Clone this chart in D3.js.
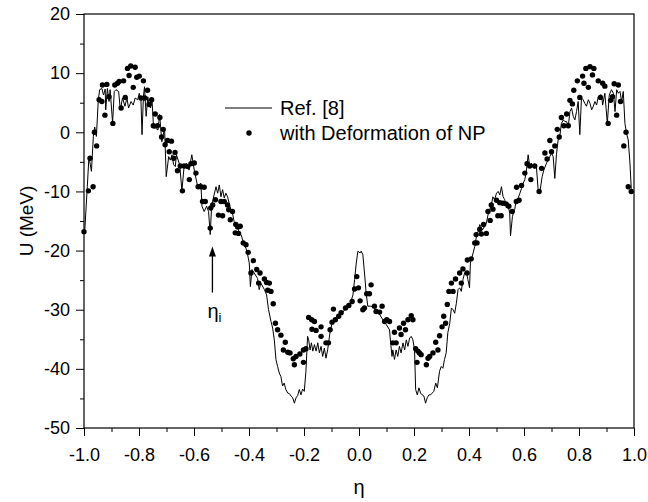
<!DOCTYPE html>
<html>
<head>
<meta charset="utf-8">
<script src="https://cdn.jsdelivr.net/npm/d3@7"></script>
<style>
  body { margin: 0; background: #fff; }
  #svg-container { width: 648px; height: 502px; }
  svg { display: block; font-family: "Liberation Sans", Arial, sans-serif; }
</style>
</head>
<body>
<div id="svg-container"></div>
<script>
////////////////////////////////////////////////////////////////////
////////////////////////////  Data  ////////////////////////////////
// Ref. [8] curve (eta, U in MeV)
const refEta = [-0.997,-0.988,-0.982,-0.973,-0.966,-0.961,-0.955,-0.948,-0.943,-0.935,-0.929,-0.923,-0.921,-0.915,-0.909,-0.905,-0.896,-0.89,-0.884,-0.874,-0.868,-0.86,-0.851,-0.844,-0.838,-0.829,-0.821,-0.814,-0.805,-0.799,-0.793,-0.789,-0.784,-0.78,-0.774,-0.768,-0.764,-0.758,-0.753,-0.747,-0.74,-0.731,-0.725,-0.717,-0.707,-0.701,-0.692,-0.686,-0.68,-0.674,-0.668,-0.664,-0.652,-0.644,-0.636,-0.627,-0.618,-0.608,-0.599,-0.587,-0.575,-0.571,-0.563,-0.554,-0.547,-0.541,-0.536,-0.527,-0.52,-0.514,-0.508,-0.502,-0.496,-0.49,-0.484,-0.478,-0.472,-0.466,-0.46,-0.454,-0.448,-0.442,-0.435,-0.429,-0.423,-0.417,-0.411,-0.405,-0.399,-0.395,-0.389,-0.381,-0.369,-0.363,-0.357,-0.344,-0.336,-0.329,-0.32,-0.314,-0.308,-0.302,-0.296,-0.29,-0.284,-0.278,-0.272,-0.266,-0.259,-0.253,-0.247,-0.241,-0.235,-0.229,-0.223,-0.217,-0.211,-0.205,-0.199,-0.193,-0.187,-0.183,-0.178,-0.173,-0.168,-0.162,-0.156,-0.15,-0.144,-0.138,-0.132,-0.126,-0.12,-0.114,-0.105,-0.098,-0.09,-0.077,-0.065,-0.047,-0.035,-0.022,-0.016,-0.01,-0.004,0.004,0.008,0.014,0.02,0.026,0.032,0.044,0.056,0.062,0.075,0.087,0.099,0.111,0.115,0.12,0.123,0.129,0.135,0.141,0.147,0.153,0.16,0.166,0.172,0.178,0.184,0.19,0.196,0.202,0.206,0.212,0.218,0.224,0.23,0.236,0.242,0.248,0.254,0.26,0.266,0.272,0.279,0.285,0.293,0.299,0.305,0.311,0.317,0.323,0.33,0.336,0.342,0.348,0.354,0.36,0.366,0.372,0.378,0.384,0.39,0.396,0.402,0.405,0.415,0.421,0.427,0.433,0.439,0.449,0.457,0.463,0.469,0.475,0.481,0.487,0.493,0.5,0.506,0.512,0.518,0.524,0.53,0.536,0.542,0.548,0.551,0.558,0.566,0.572,0.579,0.585,0.591,0.597,0.603,0.609,0.615,0.621,0.627,0.633,0.639,0.645,0.651,0.657,0.666,0.672,0.682,0.694,0.7,0.706,0.712,0.718,0.724,0.73,0.736,0.743,0.749,0.755,0.761,0.767,0.773,0.779,0.785,0.791,0.797,0.803,0.809,0.815,0.821,0.827,0.834,0.84,0.846,0.852,0.858,0.864,0.87,0.876,0.882,0.886,0.894,0.903,0.91,0.918,0.925,0.931,0.937,0.943,0.949,0.955,0.961,0.967,0.973,0.979,0.985,0.99,0.997];
const refU = [-16.5,-9.2,-4.1,-6.6,-0.7,0.9,-0.7,5.5,7.2,7.4,6.3,7.3,3.8,7.4,5.2,7.2,1.6,6.9,7.2,6.9,3.8,5.8,4.4,5.8,4.1,5.2,4.6,5.8,5.5,6.6,5.5,-0.4,6.0,7.7,2.7,6.0,4.9,4.1,5.8,0.7,0.7,0.4,3.0,-1.6,0.7,-7.5,-4.1,-4.7,-3.8,-5.5,-5.8,-3.8,-5.5,-9.9,-5.8,-5.2,-6.4,-3.8,-6.4,-9.1,-8.6,-12.5,-13.4,-12.5,-13.4,-17.3,-12.5,-10.6,-9.2,-10.3,-8.9,-10.9,-9.7,-11.1,-10.3,-10.9,-12,-13.1,-13.7,-15.1,-15.6,-15.9,-17.1,-17.3,-18.2,-19,-19.6,-20.7,-22.1,-26.1,-23.2,-23.8,-24.7,-26.6,-25.5,-26.6,-27.5,-30,-32,-33.1,-35.1,-38.4,-39.6,-40.7,-41.3,-42.9,-42.4,-43.5,-44.1,-44.2,-44.6,-44.9,-45.8,-44.9,-44.5,-43.5,-44.4,-43.4,-43.8,-40.4,-34.5,-35.1,-36.8,-35.6,-37.0,-35.9,-37.0,-35.6,-37.3,-36.2,-37.9,-36.5,-38.2,-36.8,-33.7,-32.3,-31.7,-31.4,-30.8,-29.7,-29.4,-27.5,-24.9,-22.1,-20.1,-20.4,-20.1,-20.7,-23.8,-27.2,-29.4,-29.4,-29.7,-30.3,-30.8,-31.7,-32.5,-33.4,-35.6,-37.9,-36.8,-38.4,-36.8,-37.9,-36.2,-37.3,-35.6,-36.8,-35.1,-36.2,-34.8,-34.5,-35.1,-36.8,-43.5,-44.4,-43.2,-44.1,-44.4,-44.6,-45.8,-44.9,-44.4,-44.4,-44.1,-43.8,-42.4,-43.2,-40.4,-39.6,-39.9,-38.4,-37.3,-33.9,-32.3,-29.7,-30.0,-30.6,-28.9,-26.6,-26.3,-26.9,-24.9,-23.8,-23.5,-24.9,-26.3,-22.1,-20.4,-19.3,-17.6,-16.8,-15.6,-16.5,-15.9,-15.4,-14,-13.1,-12.3,-10.9,-11.4,-10.3,-10.0,-10.6,-9.2,-10.9,-11.4,-12.8,-12.3,-13.7,-17.5,-14.2,-13.1,-11.4,-11.1,-10.3,-9.5,-8.6,-8.0,-6.4,-3.8,-5.8,-5.2,-5.8,-6.1,-5.8,-9.5,-10.3,-7.5,-6.4,-5.2,-4.1,-3.5,-4.1,-7.8,-3.8,-1.3,-0.7,1.5,2.1,1.8,1.8,1.0,3.5,4.1,2.7,2.1,3.5,5.2,-0.4,5.8,5.5,4.9,4.4,5.5,4.9,3.8,4.4,5.2,4.6,6.0,6.3,6.3,4.6,6.6,1.5,6.3,7.2,6.6,3.5,7.2,6.6,6.9,5.2,6.9,1.5,-0.2,-1.3,-5,-9.5,-10.2];

// "with Deformation of NP" points (eta, U in MeV)
const defEta = [-1.0,-0.984,-0.978,-0.967,-0.962,-0.954,-0.945,-0.935,-0.933,-0.924,-0.917,-0.909,-0.895,-0.888,-0.878,-0.872,-0.865,-0.856,-0.85,-0.842,-0.836,-0.83,-0.821,-0.814,-0.808,-0.799,-0.793,-0.784,-0.779,-0.769,-0.763,-0.754,-0.748,-0.741,-0.733,-0.724,-0.718,-0.712,-0.705,-0.696,-0.69,-0.682,-0.674,-0.669,-0.66,-0.65,-0.642,-0.636,-0.623,-0.617,-0.611,-0.599,-0.593,-0.585,-0.575,-0.563,-0.569,-0.559,-0.539,-0.541,-0.532,-0.522,-0.511,-0.502,-0.496,-0.49,-0.478,-0.474,-0.468,-0.46,-0.45,-0.448,-0.441,-0.438,-0.432,-0.421,-0.411,-0.403,-0.384,-0.393,-0.372,-0.36,-0.365,-0.344,-0.336,-0.326,-0.332,-0.32,-0.312,-0.304,-0.296,-0.284,-0.268,-0.275,-0.259,-0.251,-0.239,-0.229,-0.235,-0.215,-0.202,-0.193,-0.202,-0.183,-0.172,-0.162,-0.171,-0.156,-0.138,-0.138,-0.12,-0.111,-0.105,-0.093,-0.098,-0.086,-0.074,-0.065,-0.049,-0.037,-0.025,-0.016,-0.008,-0.002,0.004,0.014,0.02,0.028,0.038,0.044,0.056,0.062,0.075,0.084,0.093,0.101,0.111,0.123,0.129,0.135,0.147,0.153,0.162,0.169,0.178,0.19,0.196,0.206,0.211,0.214,0.22,0.226,0.245,0.251,0.257,0.269,0.279,0.287,0.293,0.302,0.308,0.315,0.321,0.327,0.336,0.342,0.351,0.366,0.372,0.378,0.393,0.394,0.408,0.421,0.429,0.426,0.439,0.445,0.453,0.463,0.469,0.477,0.481,0.487,0.5,0.505,0.512,0.517,0.523,0.535,0.545,0.557,0.572,0.582,0.573,0.591,0.603,0.611,0.621,0.625,0.639,0.655,0.664,0.676,0.684,0.694,0.7,0.712,0.721,0.728,0.736,0.745,0.755,0.761,0.767,0.776,0.781,0.794,0.803,0.813,0.818,0.825,0.834,0.84,0.849,0.854,0.87,0.878,0.886,0.894,0.906,0.915,0.922,0.928,0.937,0.943,0.951,0.963,0.971,0.979,0.99];
const defU = [-16.8,-9.9,-4.4,-9.2,0.0,-2.3,5.5,5.2,8.0,2.9,8.1,6.0,1.5,8.0,8.3,8.6,4.1,8.7,5.9,10.8,9.6,11.2,7.6,11.0,9.3,9.5,5.8,8.7,5.8,7.1,4.7,5.5,1.1,3.1,1.1,2.5,-0.8,0.5,-2.1,-1.4,-3.3,-1.5,-4.4,-3.4,-6.5,-5.7,-9.9,-5.7,-5.8,-8.0,-5.3,-5.2,-6.9,-9.2,-9.2,-9.3,-11.7,-11.7,-12.8,-16.2,-12.3,-11.4,-14.0,-11.7,-14.1,-11.7,-12.3,-13.1,-14.8,-13.4,-17.0,-15.6,-16.0,-17.1,-15.9,-18.7,-19.0,-20.3,-21.7,-23.8,-23.2,-23.8,-25.5,-24.8,-25.4,-25.5,-26.7,-26.9,-29.0,-32.3,-33.4,-34.3,-35.5,-36.8,-37.2,-37.3,-38.3,-37.9,-39.3,-37.5,-36.8,-36.6,-38.9,-31.3,-31.7,-32.0,-33.3,-33.5,-32.9,-34.5,-35.6,-35.6,-33.4,-29.9,-32.1,-31.7,-31.1,-30.5,-29.7,-29.3,-28.6,-26.5,-24.4,-26.3,-28.5,-30,-29.7,-27.3,-27.3,-25.8,-29.4,-30.3,-30.4,-29.4,-32,-31.7,-32,-35.6,-33.8,-35.6,-33.1,-34.2,-32.3,-33.4,-31.7,-31,-31.7,-36.6,-38.9,-37,-37.3,-37.6,-39.3,-38.2,-37.9,-37.3,-35.5,-36.8,-34.4,-32.9,-31.1,-32.3,-29.1,-26.9,-25.5,-26.9,-24.8,-23.8,-25.5,-23.1,-23.8,-21.6,-21.4,-18.7,-18.7,-17.3,-16.4,-17.2,-15.6,-17.1,-13.4,-14.9,-12.3,-13.0,-11.5,-14.1,-11.9,-14.1,-12.0,-12.1,-12.5,-13.4,-11.7,-11.5,-9.3,-9.0,-6.9,-5.3,-5.7,-8.0,-5.7,-10.0,-6.1,-3.5,-4.5,-1.4,-3.3,-2.3,0.5,-0.8,2.5,1.1,3.1,1.1,5.4,4.8,7.1,8.7,5.9,9.5,8.3,10.8,7.6,11.1,9.7,10.8,8.7,5.9,8.3,7.8,1.5,5.4,6.0,8.2,2.9,8.0,5.2,-2.3,0.0,-9.2,-10.0];

// axes
const xMajor = [-1.0, -0.8, -0.6, -0.4, -0.2, 0.0, 0.2, 0.4, 0.6, 0.8, 1.0];
const xMinor = [-0.9, -0.7, -0.5, -0.3, -0.1, 0.1, 0.3, 0.5, 0.7, 0.9];
const yMajor = [-50, -40, -30, -20, -10, 0, 10, 20];
const yMinor = [-45, -35, -25, -15, -5, 5, 15];

// eta_i marker
const etaI = -0.533;
const arrowFrom = -27.1;
const arrowTo = -19.3;
const etaILabelU = -31.4;

////////////////////////////////////////////////////////////////////
////////////////////////////  Init  ///////////////////////////////
const width = 648;
const height = 502;
const margin = { top: 14, right: 14, bottom: 74, left: 84 };

const svg = d3
  .select("#svg-container")
  .append("svg")
  .attr("width", width)
  .attr("height", height);

const xScale = d3
  .scaleLinear()
  .domain([-1, 1])
  .range([margin.left, width - margin.right]);

const yScale = d3
  .scaleLinear()
  .domain([-50, 20])
  .range([height - margin.bottom, margin.top]);

// plain hyphen-minus like the original, not d3's unicode minus
const fmtX = (d) => d.toFixed(1);
const fmtY = (d) => String(d);

// minor ticks
svg
  .append("g")
  .attr("transform", `translate(0,${height - margin.bottom})`)
  .call(d3.axisBottom(xScale).tickValues(xMinor).tickSize(4).tickFormat(""))
  .call((g) => g.select(".domain").remove());

svg
  .append("g")
  .attr("transform", `translate(${margin.left},0)`)
  .call(d3.axisLeft(yScale).tickValues(yMinor).tickSize(4).tickFormat(""))
  .call((g) => g.select(".domain").remove());

// major ticks + labels
svg
  .append("g")
  .attr("class", "x-axis")
  .attr("transform", `translate(0,${height - margin.bottom})`)
  .call(
    d3.axisBottom(xScale).tickValues(xMajor).tickSize(8).tickPadding(12).tickFormat(fmtX)
  );

svg
  .append("g")
  .attr("class", "y-axis")
  .attr("transform", `translate(${margin.left},0)`)
  .call(d3.axisLeft(yScale).tickValues(yMajor).tickSize(8).tickPadding(6).tickFormat(fmtY));

svg.selectAll(".x-axis .domain, .y-axis .domain").remove();
svg
  .selectAll(".tick text")
  .attr("font-family", '"Liberation Sans", Arial, sans-serif')
  .attr("font-size", 18)
  .attr("fill", "#000");
svg.selectAll(".tick line").attr("stroke", "#000");

// frame
svg
  .append("rect")
  .attr("x", xScale(-1))
  .attr("y", yScale(20))
  .attr("width", xScale(1) - xScale(-1))
  .attr("height", yScale(-50) - yScale(20))
  .attr("fill", "none")
  .attr("stroke", "#000")
  .attr("stroke-width", 1.2);

// axis titles
svg
  .append("text")
  .attr("transform", `translate(26,${(yScale(20) + yScale(-50)) / 2}) rotate(-90)`)
  .attr("text-anchor", "middle")
  .attr("dominant-baseline", "central")
  .attr("font-size", 19)
  .text("U (MeV)");

svg
  .append("text")
  .attr("x", xScale(0))
  .attr("y", 494)
  .attr("text-anchor", "middle")
  .attr("font-size", 20)
  .text("η");

////////////////////////////////////////////////////////////////////
////////////////////////////  Series  //////////////////////////////
const refData = refEta.map((e, i) => ({ eta: e, u: refU[i] }));
const defData = defEta.map((e, i) => ({ eta: e, u: defU[i] }));

const line = d3
  .line()
  .x((d) => xScale(d.eta))
  .y((d) => yScale(d.u));

svg
  .append("path")
  .datum(refData)
  .attr("fill", "none")
  .attr("stroke", "#000")
  .attr("stroke-width", 1)
  .attr("d", line);

svg
  .selectAll(".dot")
  .data(defData)
  .enter()
  .append("circle")
  .attr("class", "dot")
  .attr("cx", (d) => xScale(d.eta))
  .attr("cy", (d) => yScale(d.u))
  .attr("r", 2.7)
  .attr("fill", "#000");

////////////////////////////////////////////////////////////////////
////////////////////////////  Annotation  //////////////////////////
const ax = xScale(etaI);
svg
  .append("line")
  .attr("x1", ax)
  .attr("x2", ax)
  .attr("y1", yScale(arrowFrom))
  .attr("y2", yScale(arrowTo) + 8)
  .attr("stroke", "#000")
  .attr("stroke-width", 1.3);

svg
  .append("path")
  .attr(
    "d",
    `M${ax},${yScale(arrowTo)} L${ax - 3.5},${yScale(arrowTo) + 10} L${ax + 3.5},${yScale(arrowTo) + 10} Z`
  )
  .attr("fill", "#000");

const etaLabel = svg
  .append("text")
  .attr("x", ax + 2)
  .attr("y", yScale(etaILabelU))
  .attr("text-anchor", "middle")
  .attr("font-size", 20);
etaLabel.append("tspan").text("η");
etaLabel.append("tspan").attr("font-size", 13).attr("dy", 4).text("i");

////////////////////////////////////////////////////////////////////
////////////////////////////  Legend  //////////////////////////////
const legend = svg.append("g");
legend
  .append("line")
  .attr("x1", 225)
  .attr("x2", 272)
  .attr("y1", 108)
  .attr("y2", 108)
  .attr("stroke", "#000")
  .attr("stroke-width", 1);
legend
  .append("circle")
  .attr("cx", 249)
  .attr("cy", 133)
  .attr("r", 2.7)
  .attr("fill", "#000");
legend
  .selectAll(".legend-labels")
  .data(["Ref. [8]", "with Deformation of NP"])
  .enter()
  .append("text")
  .attr("class", "legend-labels")
  .attr("x", 280)
  .attr("y", (d, i) => 108 + i * 25)
  .attr("dominant-baseline", "central")
  .attr("font-size", 20)
  .text((d) => d);
</script>
</body>
</html>
